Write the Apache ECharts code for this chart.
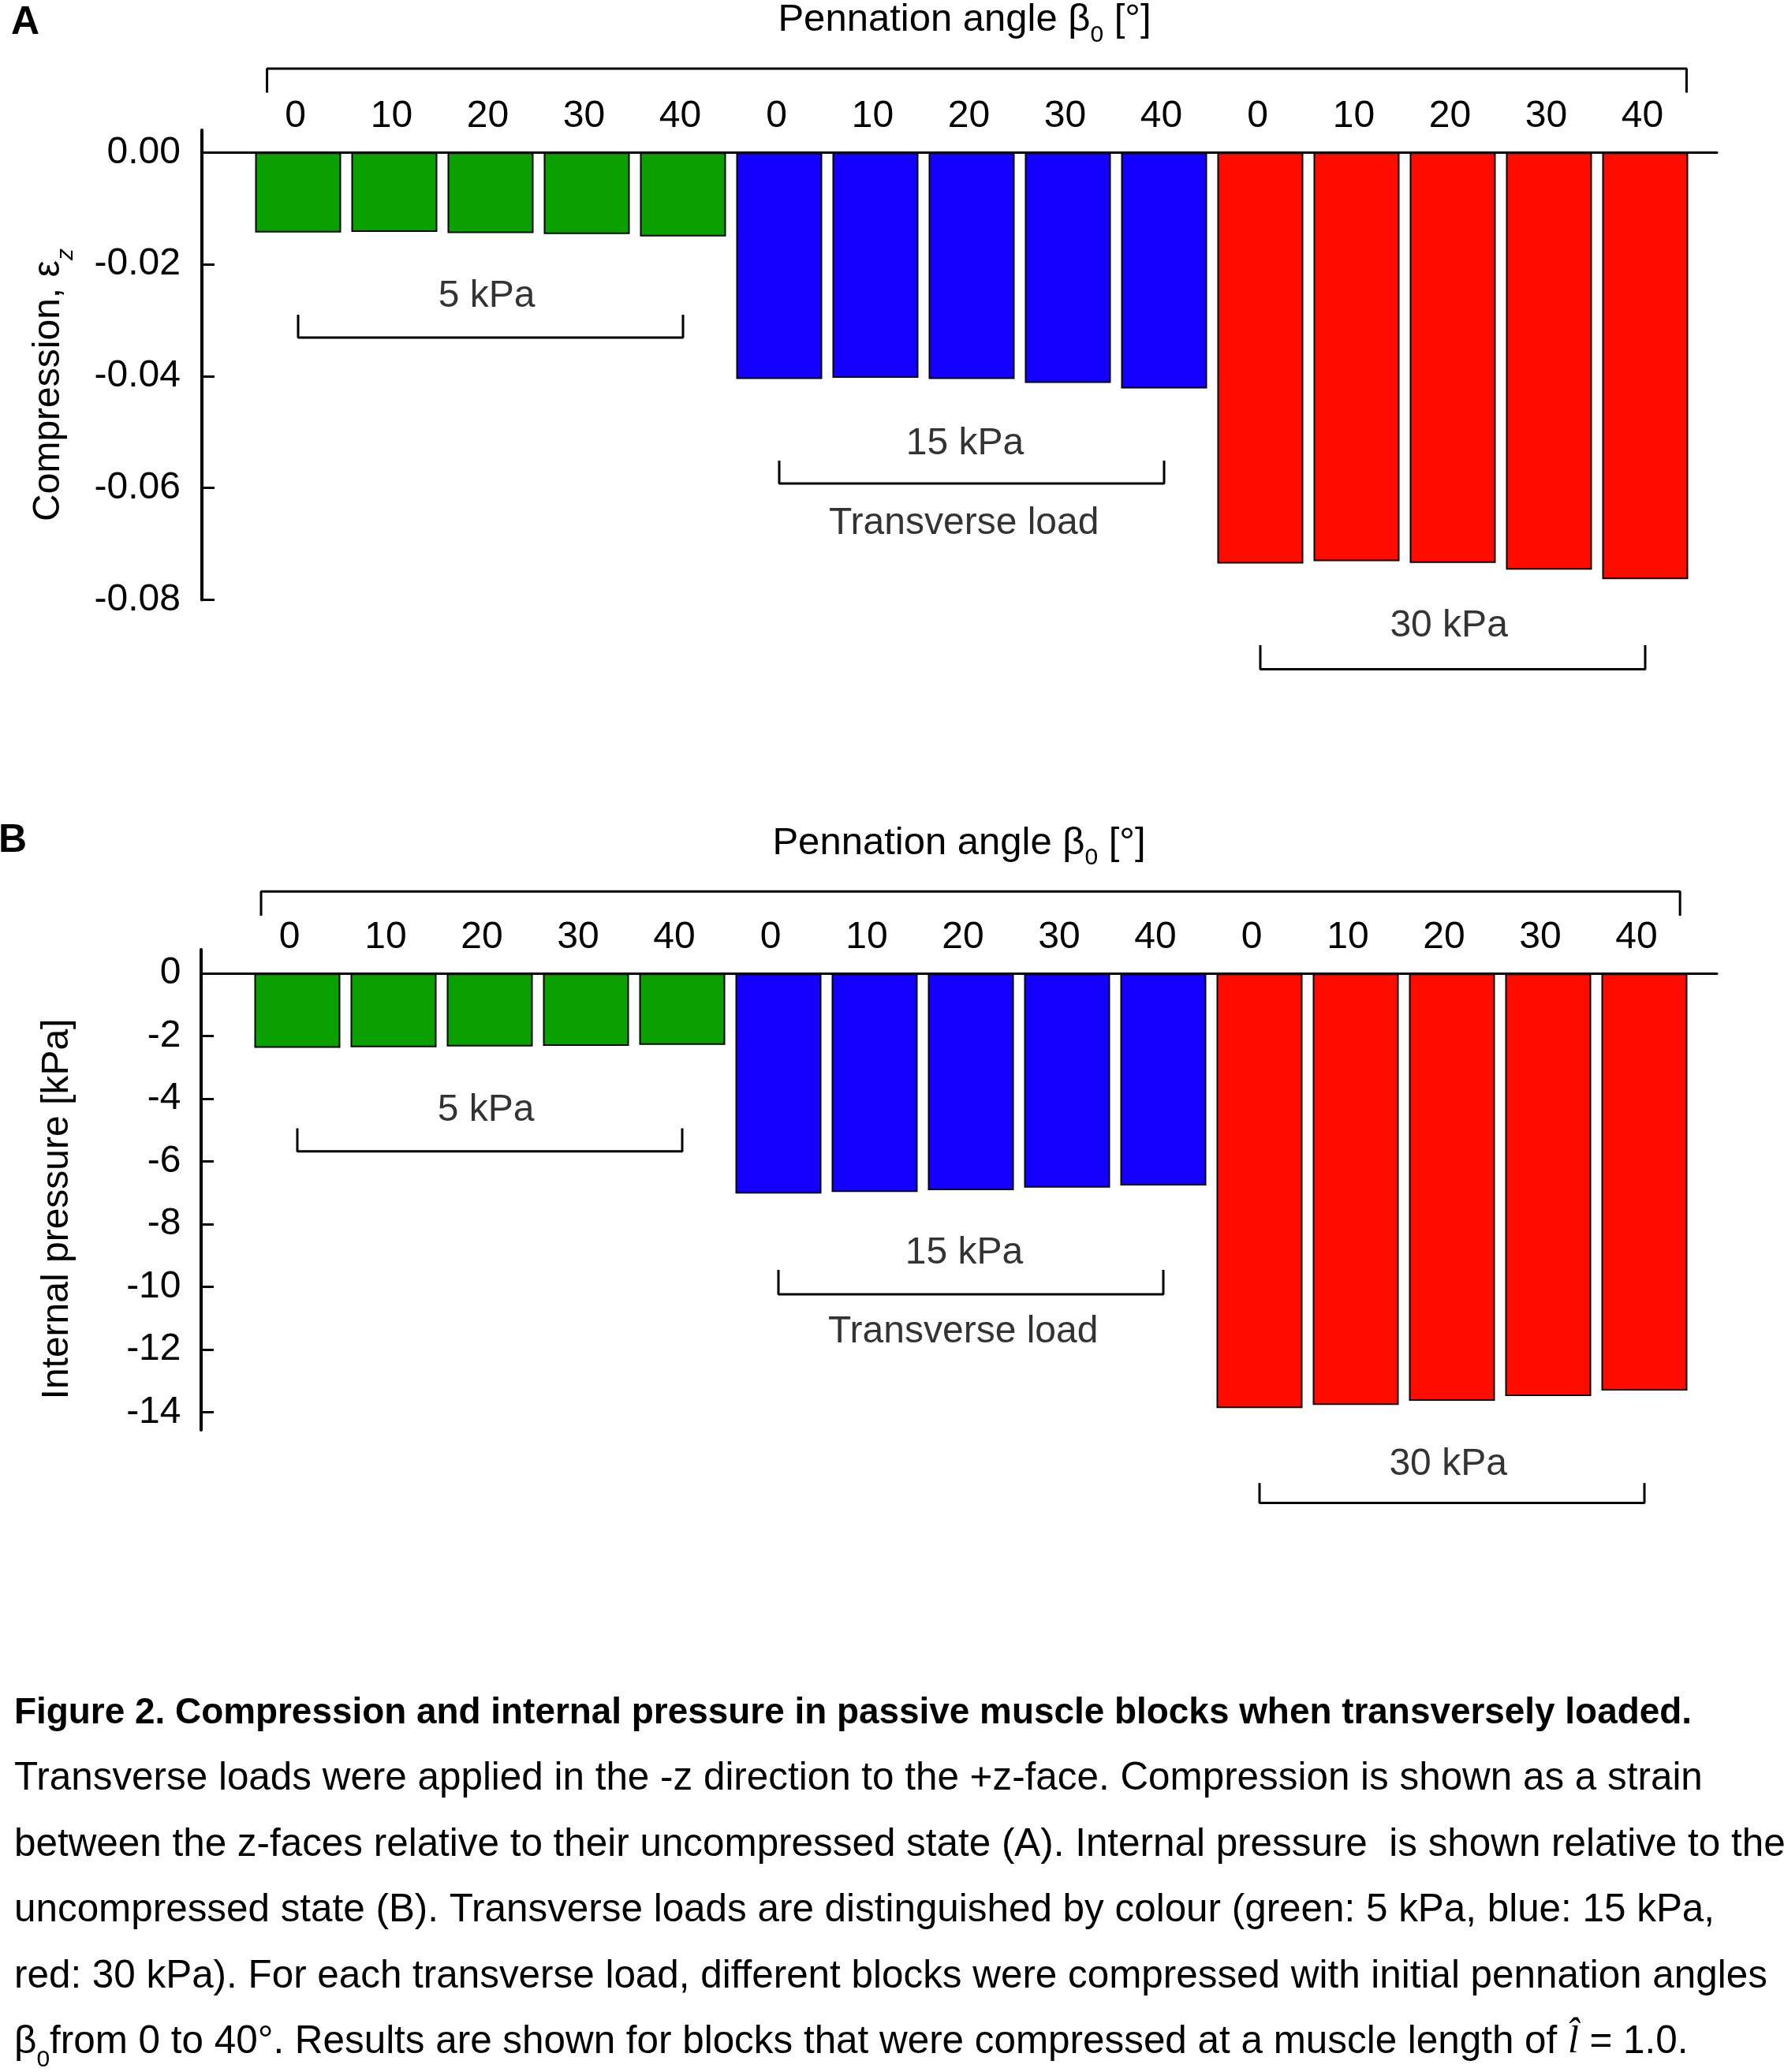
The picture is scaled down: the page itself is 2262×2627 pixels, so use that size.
<!DOCTYPE html>
<html>
<head>
<meta charset="utf-8">
<script src="https://cdn.jsdelivr.net/npm/echarts@6/dist/echarts.min.js"></script>
<style>
html, body { margin: 0; padding: 0; background: #ffffff; }
#c { width: 2262px; height: 2627px; }
</style>
</head>
<body>
<div id="c"></div>
<script>
// ---------------- data ----------------
const angles = [0, 10, 20, 30, 40];
const loads = ['5 kPa', '15 kPa', '30 kPa'];
const compression5  = [-0.0143, -0.0142, -0.0144, -0.0146, -0.0150];
const compression15 = [-0.0405, -0.0403, -0.0405, -0.0412, -0.0422];
const compression30 = [-0.0735, -0.0731, -0.0734, -0.0746, -0.0763];
const pressure5  = [-2.37, -2.35, -2.33, -2.31, -2.28];
const pressure15 = [-7.02, -6.97, -6.91, -6.83, -6.76];
const pressure30 = [-13.86, -13.76, -13.63, -13.48, -13.30];
const compressionTicks = [-0.08, -0.06, -0.04, -0.02, 0];
const pressureTicks = [-14, -12, -10, -8, -6, -4, -2, 0];
const loadColors = ['#0aa000', '#1400ff', '#ff0c00'];
const captionLines = [
  'Figure 2. Compression and internal pressure in passive muscle blocks when transversely loaded.',
  'Transverse loads were applied in the -z direction to the +z-face. Compression is shown as a strain',
  'between the z-faces relative to their uncompressed state (A). Internal pressure  is shown relative to the',
  'uncompressed state (B). Transverse loads are distinguished by colour (green: 5 kPa, blue: 15 kPa,',
  'red: 30 kPa). For each transverse load, different blocks were compressed with initial pennation angles',
  'from 0 to 40°. Results are shown for blocks that were compressed at a muscle length of '
];

// ---------------- layout (annotation positions in axis units) ----------------
const FONT = '"Liberation Sans", Arial, Helvetica, sans-serif';
const positions = [];
for (let g = 0; g < loads.length; g++) for (let i = 0; i < angles.length; i++) positions.push(g * angles.length + i + 1);

const panels = [
  {
    grid: { left: 256, top: 165, width: 1921, height: 595.5 },
    xMax: 15.746, yMin: -0.08, yMax: 0.004, ticks: compressionTicks,
    fmt: v => v.toFixed(2), values: [compression5, compression15, compression30],
    labelMargin: -6.5, labelPad: 7, yLabelMargin: 27,
    topBracket: { x0: 0.677, x1: 15.43, yEnd: 0.0107, yLine: 0.0150 },
    brackets: [
      { x0: 1, x1: 5, yEnd: -0.0290, yLine: -0.0331 },
      { x0: 6, x1: 10, yEnd: -0.0551, yLine: -0.0592 },
      { x0: 11, x1: 15, yEnd: -0.0881, yLine: -0.0924 }
    ],
    texts: [
      { x: 2.96, y: -0.0258, t: loads[0] },
      { x: 7.93, y: -0.0521, t: loads[1] },
      { x: 7.92, y: -0.0663, t: 'Transverse load' },
      { x: 12.96, y: -0.0847, t: loads[2] }
    ]
  },
  {
    grid: { left: 255, top: 1204, width: 1922, height: 609 },
    xMax: 15.754, yMin: -14.56, yMax: 0.76, ticks: pressureTicks,
    fmt: v => String(v), values: [pressure5, pressure15, pressure30],
    labelMargin: -9, labelPad: 20, yLabelMargin: 25.5,
    topBracket: { x0: 0.623, x1: 15.37, yEnd: 1.842, yLine: 2.614 },
    brackets: [
      { x0: 1, x1: 5, yEnd: -4.94, yLine: -5.675 },
      { x0: 6, x1: 10, yEnd: -9.454, yLine: -10.234 },
      { x0: 11, x1: 15, yEnd: -16.25, yLine: -16.89 }
    ],
    texts: [
      { x: 2.96, y: -4.365, t: loads[0] },
      { x: 7.93, y: -8.911, t: loads[1] },
      { x: 7.92, y: -11.44, t: 'Transverse load' },
      { x: 12.96, y: -15.67, t: loads[2] }
    ]
  }
];

// ---------------- build option ----------------
const grids = [], xAxes = [], yAxes = [], series = [];
panels.forEach((p, pi) => {
  grids.push(p.grid);
  xAxes.push({
    type: 'value', gridIndex: pi, position: 'top', min: 0, max: p.xMax,
    axisLine: { show: true, onZero: true, lineStyle: { color: '#000', width: 3 } },
    axisTick: { show: false }, splitLine: { show: false },
    axisLabel: {
      show: true, customValues: positions,
      formatter: v => String(angles[(Math.round(v) - 1) % angles.length]),
      margin: p.labelMargin, fontSize: 48, color: '#000', fontFamily: FONT,
      padding: [0, p.labelPad, 0, 0]
    }
  });
  yAxes.push({
    type: 'value', gridIndex: pi, min: p.yMin, max: p.yMax,
    axisLine: { show: true, onZero: false, lineStyle: { color: '#000', width: 4 } },
    axisTick: { show: true, inside: true, length: 16, customValues: p.ticks, lineStyle: { color: '#000', width: 3 } },
    axisLabel: { show: true, customValues: p.ticks, formatter: p.fmt, margin: p.yLabelMargin, fontSize: 48, color: '#000', fontFamily: FONT },
    splitLine: { show: false }
  });
  p.values.forEach((vals, g) => {
    series.push({
      type: 'bar', name: loads[g], xAxisIndex: pi, yAxisIndex: pi,
      barWidth: 109, barGap: '-100%',
      data: vals.map((v, i) => [g * angles.length + i + 1, v]),
      itemStyle: { color: loadColors[g], borderColor: '#000', borderWidth: 2 },
      silent: true
    });
  });
  const br = [p.topBracket].concat(p.brackets);
  br.forEach(b => {
    series.push({
      type: 'line', xAxisIndex: pi, yAxisIndex: pi, clip: false, symbol: 'none', silent: true,
      lineStyle: { color: '#000', width: 3 }, z: 4,
      data: [[b.x0, b.yEnd], [b.x0, b.yLine], [b.x1, b.yLine], [b.x1, b.yEnd]]
    });
  });
  series.push({
    type: 'scatter', xAxisIndex: pi, yAxisIndex: pi, clip: false, silent: true,
    symbolSize: 2, itemStyle: { color: 'rgba(0,0,0,0)' }, z: 5,
    label: { show: true, position: 'inside', formatter: '{b}', fontSize: 48, color: '#000', fontFamily: FONT },
    data: p.texts.map(t => ({ name: t.t, value: [t.x, t.y] }))
  });
});

function txt(x, y, text, extra) {
  return Object.assign({
    type: 'text', x: x, y: y, silent: true,
    style: Object.assign({
      text: text, fill: '#000', fontFamily: FONT, fontSize: 48,
      align: 'center', verticalAlign: 'middle', textAlign: 'center', textVerticalAlign: 'middle'
    }, extra && extra.style)
  }, extra && extra.props);
}
const subRich = (L, mainSize, subSize, italic) => ({
  m: { fontSize: mainSize, lineHeight: L, fontFamily: FONT, color: '#000' },
  s: { fontSize: subSize, lineHeight: subSize, verticalAlign: 'bottom', fontFamily: FONT, color: '#000', fontStyle: italic ? 'italic' : 'normal' },
  i: { fontSize: mainSize, lineHeight: L, fontFamily: '"Liberation Serif", serif', fontStyle: 'italic', color: '#000' }
});

const graphic = [
  txt(14, 29, 'A', { style: { fontWeight: 'bold', fontSize: 50, align: 'left', textAlign: 'left' } }),
  txt(-2, 1066, 'B', { style: { fontWeight: 'bold', fontSize: 50, align: 'left', textAlign: 'left' } }),
  txt(1223, 25.5, '{m|Pennation angle β}{s|0}{m| [°]}', { style: { rich: subRich(68, 49, 30, false) } }),
  txt(1216, 1069, '{m|Pennation angle β}{s|0}{m| [°]}', { style: { rich: subRich(68, 49, 30, false) } }),
  txt(62, 488, '{m|Compression, ε}{s|z}', { style: { rich: subRich(74, 48, 30, true) }, props: { rotation: Math.PI / 2 } }),
  txt(73, 1533, '{m|Internal pressure [kPa]}', { style: { rich: subRich(60, 48, 30, false) }, props: { rotation: Math.PI / 2 } })
];
const capY = [2172, 2255, 2339, 2422, 2506, 2589];
captionLines.forEach((line, k) => {
  if (k === 0) {
    graphic.push(txt(18, capY[k], line, { style: { fontWeight: 'bold', fontSize: 45.9, align: 'left', textAlign: 'left' } }));
  } else if (k === captionLines.length - 1) {
    graphic.push(txt(18, capY[k], '{m|β}{s|0}{m|' + line + '}{i|l\u0302}{m| = 1.0.}',
      { style: { align: 'left', textAlign: 'left', rich: subRich(76, 49.4, 30, false) } }));
  } else {
    graphic.push(txt(18, capY[k], line, { style: { fontSize: 49.4, align: 'left', textAlign: 'left' } }));
  }
});

const chart = echarts.init(document.getElementById('c'), null, { renderer: 'canvas', width: 2262, height: 2627 });
chart.setOption({
  animation: false,
  backgroundColor: '#ffffff',
  grid: grids, xAxis: xAxes, yAxis: yAxes, series: series,
  graphic: graphic
});
</script>
</body>
</html>
